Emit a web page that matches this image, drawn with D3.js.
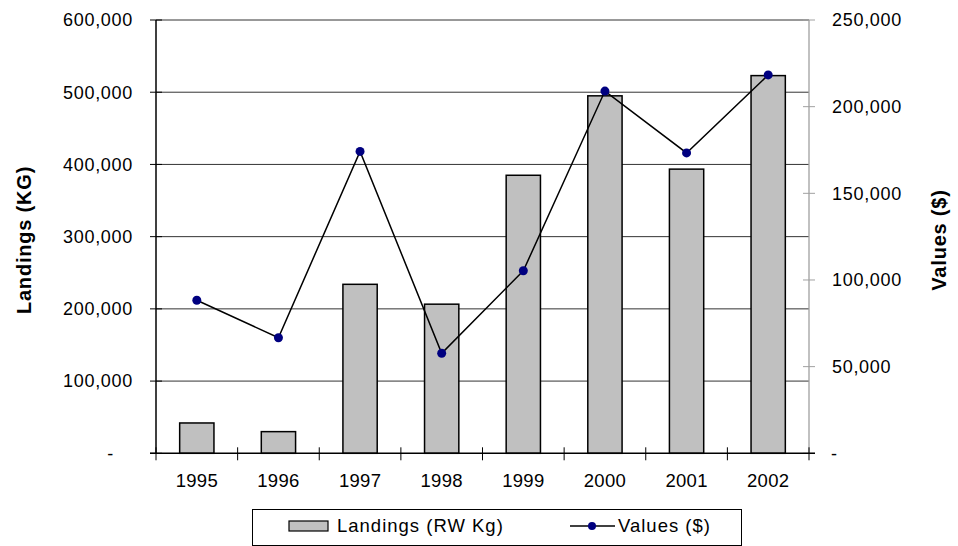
<!DOCTYPE html>
<html><head><meta charset="utf-8">
<script src="https://cdn.jsdelivr.net/npm/d3@7/dist/d3.min.js"></script>
<style>body{margin:0;background:#fff;}svg{display:block;font-family:"Liberation Sans",Arial,sans-serif;}</style>
</head><body>
<svg id="c" width="958" height="546"></svg>
<script>
const years = ["1995","1996","1997","1998","1999","2000","2001","2002"];
const landings = [42000, 30000, 234000, 206500, 385000, 495000, 393500, 523000];
const values = [88300, 66700, 174200, 57700, 105300, 209000, 173300, 218300];
const leftTicks = [0, 100000, 200000, 300000, 400000, 500000, 600000];
const rightTicks = [0, 50000, 100000, 150000, 200000, 250000];

const svg = d3.select("#c");
const L = 156, R = 809, T = 20, B = 453.3;
const x = d3.scaleBand().domain(years).range([L, R]).paddingInner(0.58).paddingOuter(0.29);
const xc = d3.scaleBand().domain(years).range([L, R]);
const yL = d3.scaleLinear().domain([0, 600000]).range([B, T]);
const yR = d3.scaleLinear().domain([0, 250000]).range([B, T]);
const fmt = v => v === 0 ? "-" : d3.format(",")(v);

// gridlines
svg.append("g").selectAll("line").data(leftTicks.filter(d => d > 0)).join("line")
  .attr("x1", L).attr("x2", R).attr("y1", d => yL(d)).attr("y2", d => yL(d))
  .attr("stroke", "#333").attr("stroke-width", 1);

// bars
svg.append("g").selectAll("rect").data(years).join("rect")
  .attr("x", d => x(d)).attr("width", x.bandwidth())
  .attr("y", (d, i) => yL(landings[i])).attr("height", (d, i) => B - yL(landings[i]))
  .attr("fill", "#c0c0c0").attr("stroke", "#000").attr("stroke-width", 1.5);

// right axis
const gR = svg.append("g").attr("transform", `translate(${R},0)`);
gR.append("line").attr("y1", T).attr("y2", B).attr("stroke", "#a0a0a0").attr("stroke-width", 1.3);
gR.selectAll("line.t").data(rightTicks).join("line").attr("class", "t")
  .attr("x1", -6).attr("x2", 6).attr("y1", d => yR(d)).attr("y2", d => yR(d))
  .attr("stroke", "#a0a0a0").attr("stroke-width", 1);
gR.selectAll("text").data(rightTicks).join("text")
  .attr("x", d => d === 0 ? 22 : 23).attr("y", d => yR(d)).attr("dy", "0.35em")
  .attr("font-size", 18).attr("letter-spacing", 0.7).attr("fill", "#000")
  .text(fmt);

// left axis
const gL = svg.append("g").attr("transform", `translate(${L},0)`);
gL.append("line").attr("y1", T).attr("y2", B).attr("stroke", "#000").attr("stroke-width", 1.5);
gL.selectAll("line.t").data(leftTicks).join("line").attr("class", "t")
  .attr("x1", -6).attr("x2", 6).attr("y1", d => yL(d)).attr("y2", d => yL(d))
  .attr("stroke", "#000").attr("stroke-width", 1);
gL.selectAll("text").data(leftTicks).join("text")
  .attr("x", d => d === 0 ? -42 : -23).attr("y", d => yL(d)).attr("dy", "0.35em")
  .attr("text-anchor", "end").attr("font-size", 18).attr("letter-spacing", 0.7).attr("fill", "#000")
  .text(fmt);

// bottom axis
const gB = svg.append("g").attr("transform", `translate(0,${B})`);
gB.append("line").attr("x1", L - 6).attr("x2", R + 6).attr("stroke", "#000").attr("stroke-width", 1.5);
const bounds = years.map(d => xc(d)).concat([R]);
gB.selectAll("line.t").data(bounds).join("line").attr("class", "t")
  .attr("x1", d => d).attr("x2", d => d).attr("y1", -6).attr("y2", 7)
  .attr("stroke", "#000").attr("stroke-width", 1);
gB.selectAll("text").data(years).join("text")
  .attr("x", d => xc(d) + xc.bandwidth() / 2).attr("y", 34)
  .attr("text-anchor", "middle").attr("font-size", 18.5).attr("letter-spacing", 0.3).attr("fill", "#000").text(d => d);

// line series
const line = d3.line().x((d, i) => xc(years[i]) + xc.bandwidth() / 2).y(d => yR(d));
svg.append("path").datum(values).attr("d", line).attr("fill", "none").attr("stroke", "#000").attr("stroke-width", 1.5);
svg.append("g").selectAll("circle").data(values).join("circle")
  .attr("cx", (d, i) => xc(years[i]) + xc.bandwidth() / 2).attr("cy", d => yR(d))
  .attr("r", 4.5).attr("fill", "#000080");

// axis titles
svg.append("text").attr("transform", "translate(31,240) rotate(-90)").attr("text-anchor", "middle")
  .attr("font-size", 20).attr("font-weight", "bold").attr("letter-spacing", 0.8).text("Landings (KG)");
svg.append("text").attr("transform", "translate(946,240) rotate(-90)").attr("text-anchor", "middle")
  .attr("font-size", 20).attr("font-weight", "bold").attr("letter-spacing", 0.8).text("Values ($)");

// legend
const lg = svg.append("g");
lg.append("rect").attr("x", 252.5).attr("y", 509.5).attr("width", 489).attr("height", 36)
  .attr("fill", "#fff").attr("stroke", "#000").attr("stroke-width", 1);
lg.append("rect").attr("x", 289).attr("y", 521).attr("width", 39).attr("height", 10)
  .attr("fill", "#c0c0c0").attr("stroke", "#000").attr("stroke-width", 1.2);
lg.append("text").attr("x", 337).attr("y", 526).attr("dy", "0.35em").attr("font-size", 18.5).attr("letter-spacing", 1).text("Landings (RW Kg)");
lg.append("line").attr("x1", 570).attr("x2", 615).attr("y1", 526).attr("y2", 526).attr("stroke", "#000").attr("stroke-width", 1.5);
lg.append("circle").attr("cx", 592).attr("cy", 526).attr("r", 4).attr("fill", "#000080");
lg.append("text").attr("x", 618).attr("y", 526).attr("dy", "0.35em").attr("font-size", 18.5).attr("letter-spacing", 1).text("Values ($)");
</script>
</body></html>
